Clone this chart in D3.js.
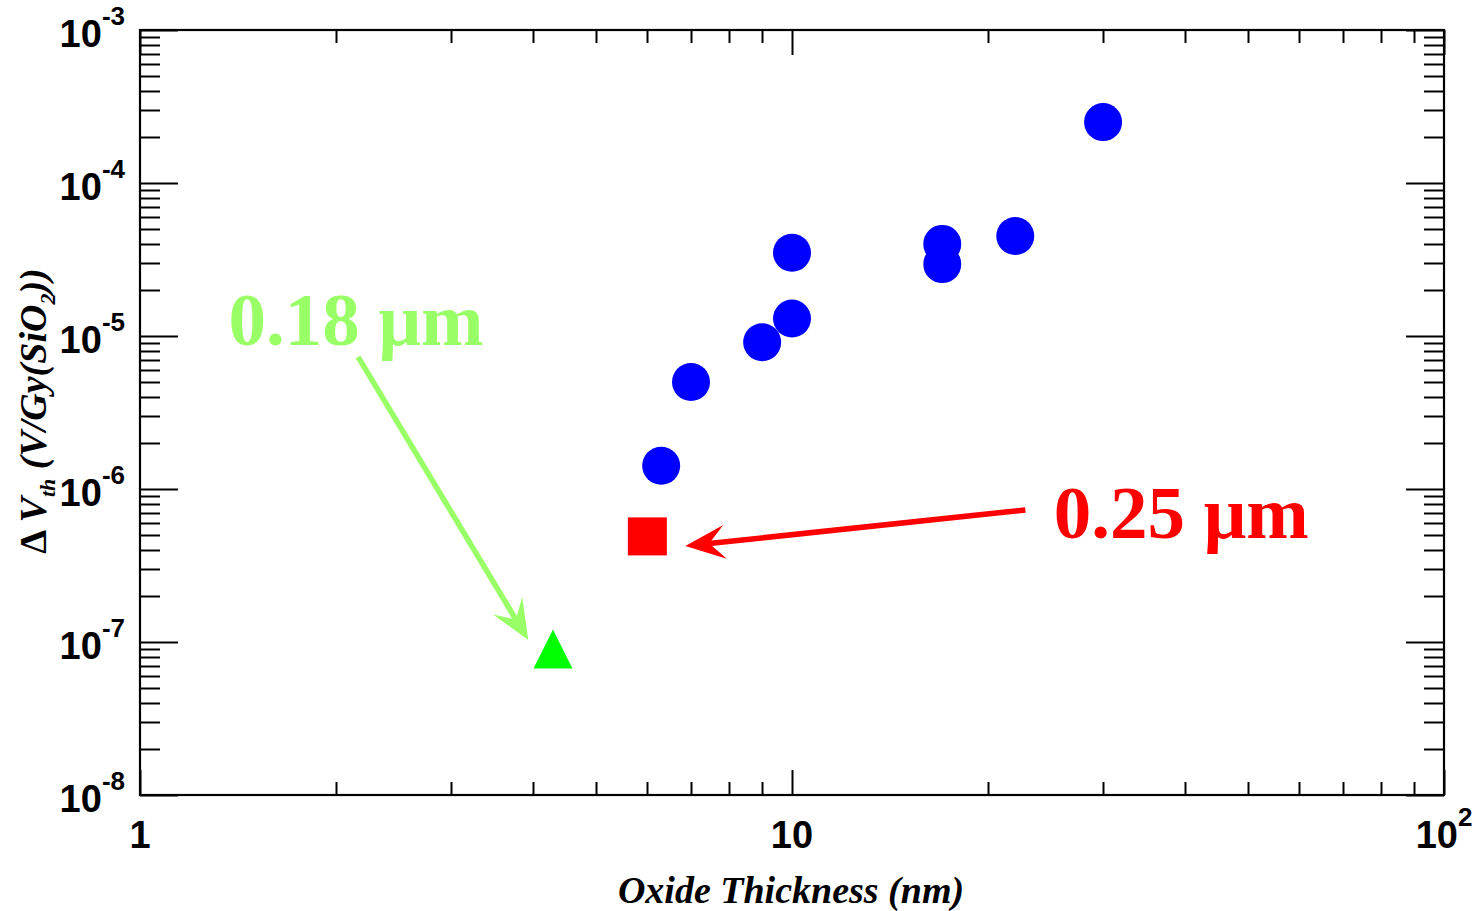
<!DOCTYPE html>
<html>
<head>
<meta charset="utf-8">
<title>Delta Vth vs oxide thickness</title>
<script src="https://d3js.org/d3.v7.min.js"></script>
<style>
  body { margin: 0; background: #fff; }
  .tick-label { font-family: "Liberation Sans", Arial, sans-serif; font-weight: bold; fill: #000; }
  .axis-title { font-family: "Liberation Serif", "Times New Roman", serif; font-weight: bold; font-style: italic; fill: #000; }
  .note { font-family: "Liberation Serif", "Times New Roman", serif; font-weight: bold; }
</style>
</head>
<body>
<script>
// blue circles: oxide thickness (nm) vs dVth (V/Gy(SiO2))
var thick = [6.3, 7.0, 9.0, 10.0, 10.0, 17.0, 17.0, 22.0, 30.0];
var dvth  = [1.42e-6, 5.0e-6, 9.1e-6, 1.3e-5, 3.5e-5, 4.0e-5, 2.95e-5, 4.5e-5, 2.5e-4];

// 0.25 um point (red square) and 0.18 um point (green triangle)
var sq025 = [6.0, 4.9e-7];
var tri018 = [4.3, 8.3e-8];

// annotation arrows, [x0, y0, x1, y1] in data units
var arrow018 = [2.16, 7.3e-6, 3.94, 1.03e-7];
var arrow025 = [22.8, 7.3e-7, 6.86, 4.24e-7];
var label018 = [1.367, 8.7e-6];
var label025 = [25.2, 4.8e-7];

var xDecades = [0, 1, 2];
var yDecades = [-8, -7, -6, -5, -4, -3];

var W = 1474, H = 911;
var L = 140, R = 1444, T = 30, B = 795;

var svg = d3.select("body").append("svg")
    .attr("width", W)
    .attr("height", H);

var x = d3.scaleLog().domain([1, 100]).range([L, R]);
var y = d3.scaleLog().domain([1e-8, 1e-3]).range([B, T]);

function isMajor(v) {
  var e = Math.log10(v);
  return Math.abs(e - Math.round(e)) < 1e-6;
}

// ticks
var g = svg.append("g").attr("stroke", "#000").attr("stroke-width", 2);
y.ticks().forEach(function(v) {
  var len = isMajor(v) ? 38 : 20;
  var yy = Math.round(y(v)) + 0.5;
  g.append("line").attr("x1", L).attr("x2", L + len).attr("y1", yy).attr("y2", yy);
  g.append("line").attr("x1", R).attr("x2", R - len).attr("y1", yy).attr("y2", yy);
});
x.ticks().forEach(function(v) {
  var len = isMajor(v) ? 25 : 13;
  var xx = Math.round(x(v)) + 0.5;
  g.append("line").attr("x1", xx).attr("x2", xx).attr("y1", B).attr("y2", B - len);
  g.append("line").attr("x1", xx).attr("x2", xx).attr("y1", T).attr("y2", T + len);
});

// frame
svg.append("rect")
    .attr("x", L).attr("y", T)
    .attr("width", R - L).attr("height", B - T)
    .attr("fill", "none").attr("stroke", "#000").attr("stroke-width", 2.2);

// y tick labels
yDecades.forEach(function(e) {
  var t = svg.append("text").attr("class", "tick-label")
      .attr("text-anchor", "end")
      .attr("x", L - 15)
      .attr("y", y(Math.pow(10, e)) + 17)
      .style("font-size", "38px");
  t.append("tspan").text("10");
  t.append("tspan").attr("dy", -22).style("font-size", "26px").text(String(e));
});

// x tick labels
xDecades.forEach(function(e) {
  var t = svg.append("text").attr("class", "tick-label")
      .attr("text-anchor", "middle")
      .attr("x", x(Math.pow(10, e)))
      .attr("y", B + 53)
      .style("font-size", "38px");
  if (e === 0) t.text("1");
  else if (e === 1) t.text("10");
  else {
    t.append("tspan").text("10");
    t.append("tspan").attr("dy", -22).style("font-size", "26px").text(String(e));
  }
});

// axis titles
svg.append("text").attr("class", "axis-title")
    .attr("x", 791)
    .attr("y", 903)
    .attr("text-anchor", "middle")
    .style("font-size", "38px")
    .text("Oxide Thickness (nm)");

var yt = svg.append("text").attr("class", "axis-title")
    .attr("transform", "translate(46," + 411 + ") rotate(-90)")
    .attr("text-anchor", "middle")
    .style("font-size", "38px");
yt.append("tspan").style("font-style", "normal").text("\u0394 ");
yt.append("tspan").text("V");
yt.append("tspan").attr("dy", 9).style("font-size", "22px").text("th");
yt.append("tspan").attr("dy", -9).text(" (V/Gy(SiO");
yt.append("tspan").attr("dy", 9).style("font-size", "22px").text("2");
yt.append("tspan").attr("dy", -9).text("))");

// data
svg.append("g").selectAll("circle")
  .data(d3.zip(thick, dvth))
  .join("circle")
    .attr("cx", function(d) { return x(d[0]); })
    .attr("cy", function(d) { return y(d[1]); })
    .attr("r", 19)
    .attr("fill", "#0000ff");

svg.append("rect")
    .attr("x", x(sq025[0]) - 19.5)
    .attr("y", y(sq025[1]) - 19)
    .attr("width", 39).attr("height", 38)
    .attr("fill", "#ff0000");

var tx = x(tri018[0]), ty = y(tri018[1]);
svg.append("path")
    .attr("d", "M" + tx + "," + (ty - 25) + "L" + (tx + 19.5) + "," + (ty + 14) + "L" + (tx - 19.5) + "," + (ty + 14) + "Z")
    .attr("fill", "#00ff00");

// arrows
function drawArrow(a, color) {
  var x0 = x(a[0]), y0 = y(a[1]), x1 = x(a[2]), y1 = y(a[3]);
  var ang = Math.atan2(y1 - y0, x1 - x0);
  var ux = Math.cos(ang), uy = Math.sin(ang);
  var nx = -uy, ny = ux;
  var bx = x1 - ux * 24, by = y1 - uy * 24;
  svg.append("line")
      .attr("x1", x0).attr("y1", y0).attr("x2", bx).attr("y2", by)
      .attr("stroke", color).attr("stroke-width", 5.5);
  var p1 = [x1 - ux * 40 + nx * 17, y1 - uy * 40 + ny * 17];
  var p2 = [x1 - ux * 40 - nx * 17, y1 - uy * 40 - ny * 17];
  svg.append("path")
      .attr("d", "M" + x1 + "," + y1 + "L" + p1 + "L" + bx + "," + by + "L" + p2 + "Z")
      .attr("fill", color);
}
drawArrow(arrow018, "#99ff66");
drawArrow(arrow025, "#ff0000");

svg.append("text").attr("class", "note")
    .attr("x", x(label018[0])).attr("y", y(label018[1]))
    .attr("fill", "#99ff66")
    .style("font-size", "75px")
    .text("0.18 \u03bcm");

svg.append("text").attr("class", "note")
    .attr("x", x(label025[0])).attr("y", y(label025[1]))
    .attr("fill", "#ff0000")
    .style("font-size", "75px")
    .text("0.25 \u03bcm");
</script>
</body>
</html>
